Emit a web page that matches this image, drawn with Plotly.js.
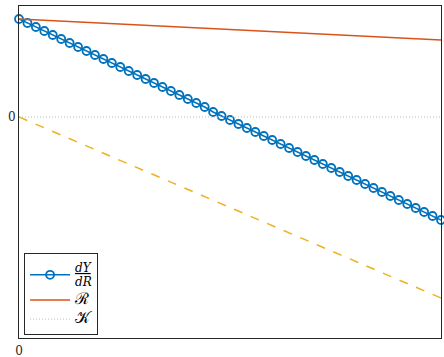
<!DOCTYPE html>
<html>
<head>
<meta charset="utf-8">
<script src="https://cdn.plot.ly/plotly-3.0.1.min.js"></script>
<style>html,body{margin:0;padding:0;background:#fff;}#chart{width:444px;height:357px;}</style>
</head>
<body>
<div id="chart"></div>
<script>
// Sample index (51 samples)
const xIdx = [0,1,2,3,4,5,6,7,8,9,10,11,12,13,14,15,16,17,18,19,20,21,22,23,24,25,26,27,28,29,30,31,32,33,34,35,36,37,38,39,40,41,42,43,44,45,46,47,48,49,50];
// dY/dR series
const dYdR = [0.98,0.94,0.90,0.86,0.82,0.78,0.74,0.70,0.66,0.62,0.58,0.54,0.50,0.46,0.42,0.38,0.34,0.30,0.26,0.22,0.18,0.14,0.10,0.05,0.01,-0.03,-0.07,-0.11,-0.15,-0.19,-0.23,-0.27,-0.31,-0.35,-0.39,-0.43,-0.47,-0.51,-0.55,-0.59,-0.63,-0.67,-0.71,-0.75,-0.79,-0.83,-0.87,-0.91,-0.95,-0.99,-1.03];
// R line endpoints
const rX = [0, 50];
const rY = [0.98, 0.77];
// K (zero reference) line
const kX = [0, 50];
const kY = [0, 0];
// dashed yellow line
const dX = [0, 50];
const dY = [0, -1.81];

const labels = {
  dydr: '<span style="text-decoration:underline;font-size:12px"><i>dY</i></span><br><span style="font-size:12px"><i>dR</i></span>',
  r: '<span style="font-size:16px">ℛ</span>',
  k: '<span style="font-size:16px">𝒦</span>'
};

const traces = [
  {x: dX, y: dY, mode: 'lines', line: {color: '#EDB120', width: 1.5, dash: 'dash'}, showlegend: false, cliponaxis: false},
  {x: xIdx, y: dYdR, mode: 'lines+markers', name: labels.dydr,
   line: {color: '#0072BD', width: 1.5},
   marker: {symbol: 'circle-open', size: 8, color: '#0072BD', line: {width: 1.8, color: '#0072BD'}},
   cliponaxis: false},
  {x: rX, y: rY, mode: 'lines', name: labels.r, line: {color: '#D95319', width: 1.5}, cliponaxis: false},
  {x: kX, y: kY, mode: 'lines', name: labels.k, line: {color: '#bbbbbb', width: 1, dash: '1px,2px'}, cliponaxis: false}
];

const font = {family: '"DejaVu Serif", "Liberation Serif", serif', size: 12, color: '#262626'};

const layout = {
  width: 444, height: 357,
  margin: {l: 19, r: 3, t: 6, b: 19},
  paper_bgcolor: '#fff', plot_bgcolor: '#fff',
  font: font,
  showlegend: true,
  xaxis: {range: [0, 50], tickvals: [0], ticktext: ['0'], showgrid: false, zeroline: false,
          showline: true, mirror: true, linecolor: '#262626', linewidth: 1, ticks: '',
          ticklabelstandoff: 2,
          tickfont: {family: font.family, size: 12, color: '#262626'}, fixedrange: true},
  yaxis: {range: [-2.21, 1.11], tickvals: [0], ticktext: ['0'], showgrid: false, zeroline: false,
          showline: true, mirror: true, linecolor: '#262626', linewidth: 1, ticks: '',
          tickfont: {family: font.family, size: 12, color: '#262626'}, fixedrange: true},
  legend: {x: 0.012, y: 0.009, xanchor: 'left', yanchor: 'bottom', bgcolor: '#fff',
           bordercolor: '#262626', borderwidth: 1, tracegroupgap: 0, itemwidth: 40,
           font: {family: font.family, size: 11, color: '#000'}}
};

Plotly.newPlot('chart', traces, layout, {staticPlot: true, displayModeBar: false});
</script>
</body>
</html>
